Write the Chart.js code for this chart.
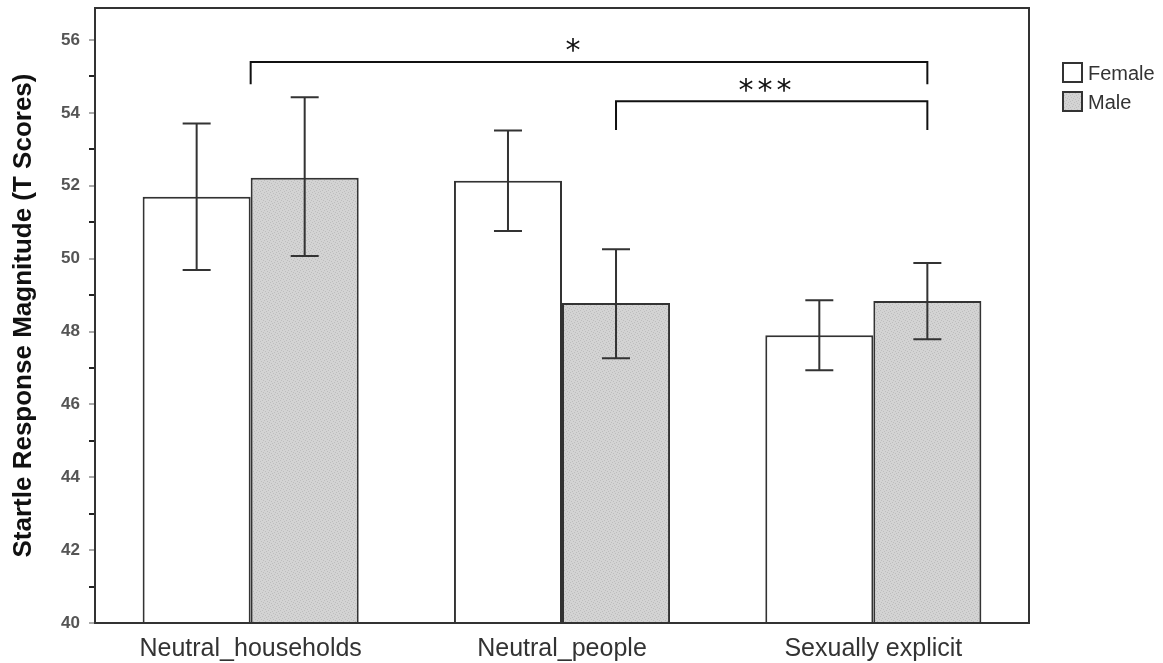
<!DOCTYPE html>
<html>
<head>
<meta charset="utf-8">
<script src="https://cdn.jsdelivr.net/npm/chart.js@4/dist/chart.umd.min.js"></script>
<style>
  html, body { margin: 0; padding: 0; background: #fff; }
  #wrap { width: 1163px; height: 663px; }
</style>
</head>
<body>
<div id="wrap"><canvas id="chart" width="1163" height="663"></canvas></div>
<script>
// Startle response by picture category and sex (means with error bars)
const categories = ['Neutral_households', 'Neutral_people', 'Sexually explicit'];
const seriesNames = ['Female', 'Male'];

const femaleMeans = [51.70, 52.14, 47.90];
const femaleLow = [49.69, 50.76, 46.94];
const femaleHigh = [53.71, 53.52, 48.86];

const maleMeans = [52.22, 48.78, 48.84];
const maleLow = [50.07, 47.27, 47.79];
const maleHigh = [54.43, 50.26, 49.88];

const yMin = 40;
const yMax = 56.88;
const yLabelStep = 2;

// significance brackets: [category, dataset (-1 = category centre)]
const bracketFrom = [[0, -1], [1, 1]];
const bracketTo = [[2, 1], [2, 1]];
const bracketTop = [55.40, 54.32];
const bracketDrop = [54.79, 53.53];
const bracketText = ['*', '***'];
const bracketTextX = [1.035, 1.652];
const bracketTextValue = [55.82, 54.72];

const FONT = "'Liberation Sans', Arial, sans-serif";
const INK = '#333';

// light grey stipple for the Male bars
function stipple() {
  const c = document.createElement('canvas');
  c.width = 6; c.height = 6;
  const g = c.getContext('2d');
  g.fillStyle = '#d3d3d3';
  g.fillRect(0, 0, 6, 6);
  g.fillStyle = '#bdbdbd';
  [[0, 0], [3, 1], [1, 3], [4, 4], [5, 2], [2, 5]].forEach(p => g.fillRect(p[0], p[1], 1, 1));
  return g.createPattern(c, 'repeat');
}
const maleFill = stipple();

const errorBars = [
  { low: femaleLow, high: femaleHigh },
  { low: maleLow, high: maleHigh }
];

// error bars on top of the bars
const errorBarPlugin = {
  id: 'errorBars',
  afterDatasetsDraw(chart) {
    const ctx = chart.ctx;
    const y = chart.scales.y;
    ctx.save();
    ctx.strokeStyle = INK;
    ctx.lineWidth = 2;
    errorBars.forEach((eb, d) => {
      const meta = chart.getDatasetMeta(d);
      meta.data.forEach((bar, i) => {
        const x = bar.x;
        const yl = y.getPixelForValue(eb.low[i]);
        const yh = y.getPixelForValue(eb.high[i]);
        ctx.beginPath();
        ctx.moveTo(x, yl); ctx.lineTo(x, yh);
        ctx.moveTo(x - 14, yl); ctx.lineTo(x + 14, yl);
        ctx.moveTo(x - 14, yh); ctx.lineTo(x + 14, yh);
        ctx.stroke();
      });
    });
    ctx.restore();
  }
};

// frame, brackets and legend
const decorPlugin = {
  id: 'decor',
  afterDraw(chart) {
    const ctx = chart.ctx;
    const a = chart.chartArea;
    const x = chart.scales.x;
    const y = chart.scales.y;
    ctx.save();
    ctx.strokeStyle = INK;
    ctx.lineWidth = 2;
    ctx.strokeRect(a.left, a.top, a.right - a.left, a.bottom - a.top);

    const xOf = ref => ref[1] < 0 ? x.getPixelForValue(ref[0]) : chart.getDatasetMeta(ref[1]).data[ref[0]].x;
    bracketText.forEach((txt, k) => {
      const x1 = xOf(bracketFrom[k]);
      const x2 = xOf(bracketTo[k]);
      const yt = y.getPixelForValue(bracketTop[k]);
      const yd = y.getPixelForValue(bracketDrop[k]);
      ctx.strokeStyle = '#111';
      ctx.beginPath();
      ctx.moveTo(x1, yd); ctx.lineTo(x1, yt); ctx.lineTo(x2, yt); ctx.lineTo(x2, yd);
      ctx.stroke();
      ctx.fillStyle = '#111';
      ctx.font = "30px 'DejaVu Sans', sans-serif";
      ctx.textAlign = 'center';
      ctx.textBaseline = 'middle';
      ctx.letterSpacing = '4px';
      ctx.fillText(txt, x.getPixelForValue(bracketTextX[k]) + 2, y.getPixelForValue(bracketTextValue[k]) + 6);
      ctx.letterSpacing = '0px';
    });

    // legend
    chart.data.datasets.forEach((ds, i) => {
      const bx = a.right + 34;
      const by = a.top + 55 + i * 29;
      ctx.fillStyle = ds.backgroundColor;
      ctx.fillRect(bx, by, 19, 19);
      ctx.strokeStyle = INK;
      ctx.lineWidth = 2;
      ctx.strokeRect(bx, by, 19, 19);
      ctx.fillStyle = INK;
      ctx.font = '20px ' + FONT;
      ctx.textAlign = 'left';
      ctx.textBaseline = 'middle';
      ctx.fillText(ds.label, bx + 25, by + 11);
    });
    ctx.restore();
  }
};

new Chart(document.getElementById('chart'), {
  type: 'bar',
  data: {
    labels: categories,
    datasets: [
      {
        label: seriesNames[0],
        data: femaleMeans,
        backgroundColor: '#ffffff',
        borderColor: INK,
        borderWidth: 2
      },
      {
        label: seriesNames[1],
        data: maleMeans,
        backgroundColor: maleFill,
        borderColor: INK,
        borderWidth: 2
      }
    ]
  },
  options: {
    responsive: false,
    animation: false,
    layout: { padding: { top: 8, right: 134, left: 0, bottom: 0 } },
    datasets: { bar: { categoryPercentage: 0.694, barPercentage: 1.0 } },
    plugins: {
      legend: { display: false },
      tooltip: { enabled: false }
    },
    scales: {
      x: {
        grid: { display: false, drawTicks: false },
        border: { display: true, color: INK, width: 2 },
        ticks: { font: { family: FONT, size: 25 }, color: INK, padding: 11 },
        afterFit(scale) { scale.height = 40; }
      },
      y: {
        min: yMin,
        max: yMax,
        afterBuildTicks(scale) {
          scale.ticks = scale.ticks.filter(t => Number.isInteger(t.value));
        },
        ticks: {
          stepSize: 1,
          font: { family: FONT, size: 17, weight: 'bold' },
          color: '#555',
          padding: 9,
          callback: v => (v % yLabelStep === 0 ? v : '')
        },
        grid: {
          drawOnChartArea: false,
          tickLength: 6,
          lineWidth: 2,
          color: ctx => (ctx.tick && ctx.tick.value % yLabelStep === 0 ? '#aaa' : '#222')
        },
        border: { display: true, color: INK, width: 2 },
        title: {
          display: true,
          text: 'Startle Response Magnitude (T Scores)',
          font: { family: FONT, size: 26, weight: 'bold' },
          color: '#111',
          padding: { top: 8, bottom: 0 }
        },
        afterFit(scale) {
          scale.width = 95;
          // top label sits well below the frame, no extra room needed
          scale.paddingTop = 0;
        }
      }
    }
  },
  plugins: [errorBarPlugin, decorPlugin]
});
</script>
</body>
</html>
